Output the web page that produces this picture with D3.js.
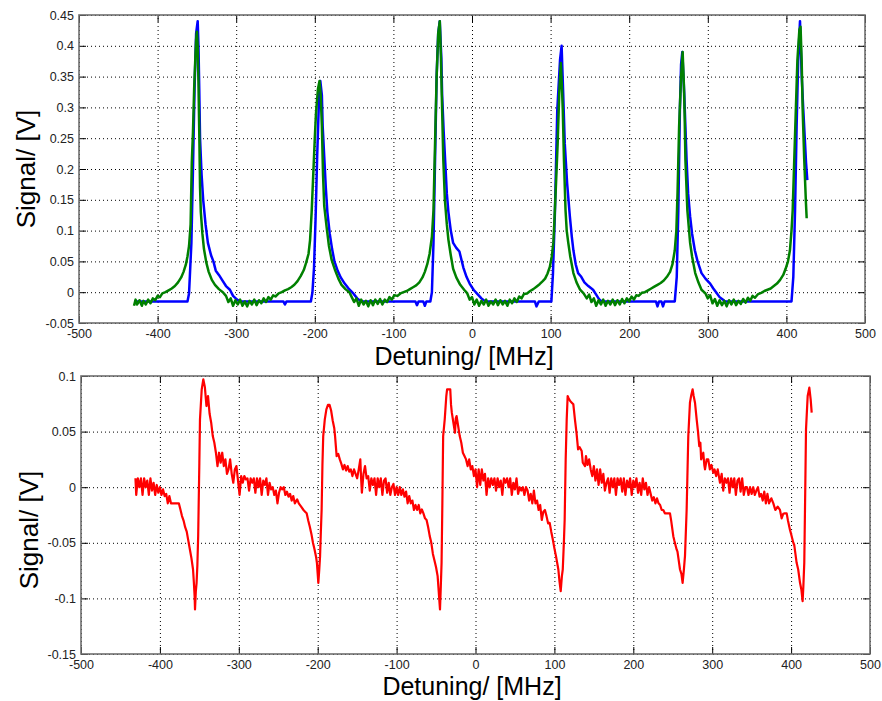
<!DOCTYPE html>
<html>
<head>
<meta charset="utf-8">
<script src="https://cdn.jsdelivr.net/npm/d3@7"></script>
<style>
body {margin:0; background:#fff;}
svg text {font-family:"Liberation Sans", Arial, sans-serif;}
</style>
</head>
<body>
<svg width="882" height="701"></svg>
<script>
//Dados
var xTicks = [-500, -400, -300, -200, -100, 0, 100, 200, 300, 400, 500];
var xTickLabels = ["-500", "-400", "-300", "-200", "-100", "0", "100", "200", "300", "400", "500"];

var yTicksTop = [-0.05, 0, 0.05, 0.1, 0.15, 0.2, 0.25, 0.3, 0.35, 0.4, 0.45];
var yTickLabelsTop = ["-0.05", "0", "0.05", "0.1", "0.15", "0.2", "0.25", "0.3", "0.35", "0.4", "0.45"];

var yTicksBottom = [-0.15, -0.1, -0.05, 0, 0.05, 0.1];
var yTickLabelsBottom = ["-0.15", "-0.1", "-0.05", "0", "0.05", "0.1"];

// sinal azul (detuning MHz, volts)
var blueData = [
[-430,-0.015],[-362,-0.015],[-360,-0.002],[-359,0.025],[-357,0.08],[-355,0.2],[-353,0.33],[-351,0.42],[-349,0.44],[-348,0.40],[-347,0.33],[-346,0.25],[-344,0.19],[-342,0.15],[-339,0.11],[-336,0.08],[-332,0.06],[-329,0.05],[-326,0.035],[-322,0.028],[-318,0.02],[-313,0.01],[-308,0.004],[-304,-0.006],[-299,-0.012],[-295,-0.015],
[-240,-0.015],[-238,-0.02],[-236,-0.015],[-205,-0.015],[-203,0.0],[-201,0.04],[-199,0.12],[-197,0.22],[-195,0.30],[-194,0.335],[-193,0.343],[-191,0.32],[-190,0.27],[-188,0.22],[-186,0.17],[-184,0.13],[-181,0.095],[-178,0.07],[-175,0.05],[-171,0.035],[-167,0.024],[-162,0.014],[-157,0.006],[-151,-0.002],[-146,-0.01],[-141,-0.015],
[-72,-0.015],[-70,-0.021],[-68,-0.015],[-62,-0.015],[-60,-0.022],[-58,-0.015],[-53,-0.015],[-51,0.0],[-49,0.08],[-47,0.215],[-45,0.35],[-43,0.42],[-41,0.44],[-39,0.38],[-38,0.32],[-36,0.26],[-34,0.21],[-32,0.16],[-30,0.13],[-27,0.10],[-24,0.08],[-20,0.072],[-16,0.066],[-11,0.04],[-7,0.025],[-3,0.014],[2,0.004],[7,-0.003],[12,-0.01],[17,-0.015],
[80,-0.015],[82,-0.023],[85,-0.015],[101,-0.015],[103,0.03],[105.5,0.13],[108.5,0.296],[112,0.377],[114,0.40],[116,0.323],[118,0.242],[121,0.177],[124.5,0.123],[127,0.09],[129,0.068],[132,0.045],[135,0.031],[139,0.025],[143,0.016],[148,0.01],[154,0.004],[158,-0.004],[162,-0.012],[165,-0.015],
[234,-0.015],[236,-0.023],[238,-0.015],[241,-0.015],[243,-0.023],[245,-0.015],[258,-0.015],[260.5,0.025],[262.5,0.133],[264.5,0.296],[266,0.37],[267.6,0.39],[269,0.35],[270,0.323],[273,0.215],[275,0.16],[277.5,0.123],[280,0.095],[283.5,0.068],[287,0.05],[292,0.031],[297,0.022],[303,0.014],[307,0.006],[311,-0.001],[315,-0.008],[319,-0.012],[322,-0.015],
[406.5,-0.015],[408.8,0.025],[411,0.133],[413,0.269],[415,0.377],[417.3,0.44],[419.5,0.35],[421.5,0.296],[423.7,0.242],[425,0.21],[426.6,0.182]
];

// sinal verde
var greenData = [
[-430,-0.022],[-428,-0.012],[-426,-0.02],[-423,-0.013],[-420,-0.022],[-418,-0.014],[-415,-0.02],[-412,-0.012],[-409,-0.018],[-406,-0.01],[-403,-0.013],[-400,-0.006],[-397,-0.008],[-394,-0.002],[-390,0.0],[-386,0.003],[-382,0.006],[-378,0.01],[-374,0.016],[-370,0.024],[-367,0.033],[-364,0.045],[-362,0.058],[-360,0.075],[-358,0.11],[-356.5,0.21],[-355,0.26],[-353.5,0.33],[-352,0.38],[-351,0.41],[-350,0.423],[-349,0.40],[-348,0.34],[-347,0.26],[-346,0.17],[-345,0.13],[-343,0.095],[-341,0.07],[-338,0.048],[-335,0.033],[-331,0.02],[-327,0.012],[-322,0.005],[-317,0.0],[-313,-0.006],
[-310,-0.016],[-307,-0.01],[-304,-0.022],[-301,-0.013],[-298,-0.02],[-295,-0.012],[-292,-0.022],[-289,-0.015],[-286,-0.023],[-283,-0.014],[-280,-0.02],[-277,-0.012],[-274,-0.021],[-271,-0.013],[-268,-0.018],[-265,-0.01],[-262,-0.016],[-259,-0.008],[-256,-0.012],[-253,-0.005],[-250,-0.007],[-246,-0.002],[-242,0.0],[-238,0.003],[-234,0.005],[-230,0.008],[-226,0.012],[-222,0.018],[-218,0.026],[-214,0.036],[-211,0.048],[-208,0.062],[-206,0.085],[-204,0.13],[-202,0.19],[-200,0.25],[-198.5,0.29],[-196,0.33],[-194,0.343],[-192.5,0.32],[-191,0.27],[-189.5,0.19],[-188,0.14],[-185,0.106],[-182,0.075],[-178.5,0.052],[-174,0.035],[-170,0.022],[-166,0.012],[-161,0.005],[-156,0.0],
[-153,-0.008],[-150,-0.016],[-147,-0.01],[-144,-0.022],[-141,-0.012],[-138,-0.02],[-135,-0.014],[-132,-0.023],[-129,-0.013],[-126,-0.021],[-123,-0.012],[-120,-0.019],[-117,-0.011],[-114,-0.02],[-111,-0.012],[-108,-0.016],[-105,-0.008],[-102,-0.012],[-99,-0.005],[-95,-0.006],[-91,-0.002],[-87,0.0],[-83,0.002],[-79,0.005],[-75,0.008],[-71,0.011],[-67,0.016],[-63,0.024],[-60,0.033],[-57,0.045],[-54,0.062],[-51,0.09],[-49,0.133],[-47,0.242],[-45,0.35],[-43,0.42],[-41,0.44],[-39.5,0.38],[-38.5,0.323],[-36.5,0.215],[-34.5,0.15],[-32,0.11],[-30,0.085],[-27,0.06],[-24,0.038],[-20,0.024],[-15,0.012],[-10,0.004],[-6,-0.002],
[-3,-0.012],[0,-0.008],[3,-0.02],[6,-0.012],[9,-0.022],[12,-0.014],[15,-0.02],[18,-0.012],[21,-0.022],[24,-0.015],[27,-0.02],[30,-0.012],[33,-0.021],[36,-0.013],[39,-0.02],[42,-0.014],[45,-0.022],[48,-0.012],[51,-0.018],[54,-0.01],[57,-0.016],[60,-0.007],[63,-0.01],[66,-0.003],[70,-0.002],[74,0.002],[78,0.005],[82,0.009],[86,0.013],[90,0.018],[93,0.022],[96,0.03],[99,0.041],[101.5,0.058],[103.5,0.08],[105,0.12],[107,0.18],[109,0.242],[111,0.323],[113,0.372],[114.5,0.33],[115.5,0.296],[117,0.215],[119,0.133],[120.5,0.1],[122.5,0.08],[125,0.058],[129,0.031],[133,0.016],[137.5,0.004],[142,-0.002],
[146,-0.01],[149,-0.004],[152,-0.016],[155,-0.01],[158,-0.022],[161,-0.013],[164,-0.02],[167,-0.012],[170,-0.022],[173,-0.014],[176,-0.02],[179,-0.012],[182,-0.021],[185,-0.013],[188,-0.02],[191,-0.011],[194,-0.018],[197,-0.01],[200,-0.015],[203,-0.007],[206,-0.012],[209,-0.005],[212,-0.006],[216,-0.001],[220,0.0],[224,0.003],[228,0.006],[232,0.009],[236,0.012],[240,0.015],[244,0.019],[248,0.025],[252,0.033],[255,0.045],[258,0.068],[260,0.1],[261.5,0.161],[263.5,0.269],[266,0.35],[268,0.39],[269.5,0.34],[270.5,0.29],[271.5,0.215],[274,0.133],[277.5,0.08],[280,0.058],[284,0.031],[288,0.016],[292,0.004],[297,-0.002],
[300,-0.01],[303,-0.005],[306,-0.018],[309,-0.011],[312,-0.022],[315,-0.013],[318,-0.021],[321,-0.014],[324,-0.023],[327,-0.013],[330,-0.02],[333,-0.012],[336,-0.021],[339,-0.014],[342,-0.019],[345,-0.011],[348,-0.017],[351,-0.009],[354,-0.014],[357,-0.006],[360,-0.009],[364,-0.003],[368,-0.001],[372,0.002],[376,0.004],[380,0.006],[384,0.01],[388,0.014],[392,0.02],[396,0.028],[399,0.038],[402,0.05],[404.5,0.068],[406.5,0.1],[408,0.133],[410,0.215],[412,0.296],[414,0.377],[416.5,0.426],[418,0.431],[419.4,0.377],[420.7,0.296],[422.7,0.215],[424.9,0.144],[425.8,0.12]
];

// sinal vermelho (grafico de baixo)
var redData = [
[-431,0.008],[-430,-0.007],[-428,0.008],[-426,0.0],[-424,0.008],[-422,-0.007],[-420,0.008],[-418,0.0],[-416,0.006],[-414,-0.007],[-412,0.008],[-410,-0.003],[-408,0.004],[-406,-0.007],[-404,0.002],[-402,-0.005],[-400,0.0],[-398,-0.007],[-396,-0.002],[-394,-0.008],[-392,-0.006],[-390,-0.0145],[-388,-0.008],[-386,-0.0145],[-383,-0.0145],[-380,-0.0145],[-376,-0.0145],[-374,-0.02],[-372,-0.026],[-370,-0.03],[-368,-0.036],[-366,-0.04],[-364,-0.048],[-362,-0.056],[-360,-0.064],[-358,-0.074],[-357,-0.085],[-356,-0.098],[-355.5,-0.110],[-354.5,-0.094],[-353.5,-0.086],[-352.5,-0.07],[-351.5,-0.044],[-350.5,0.0],[-350,0.022],[-349.2,0.061],[-347,0.088],[-345,0.097],[-343,0.09],[-341,0.073],[-339,0.082],[-337,0.066],[-335,0.058],[-333,0.046],[-331,0.04],[-329,0.031],[-327,0.019],[-325,0.031],[-323,0.022],[-321,0.031],[-319,0.019],[-317,0.025],[-315,0.012],[-313,0.016],[-311,0.025],[-309,0.012],[-307,0.004],[-305,0.016],[-303,0.019],[-301,0.006],[-299,-0.007],[-297,0.01],[-295,0.004],[-293,0.01],[-291,0.007],
[-289,0.008],[-287,-0.003],[-285,0.008],[-283,0.004],[-281,0.008],[-279,-0.005],[-277,0.008],[-275,0.0],[-273,0.008],[-271,-0.007],[-269,0.006],[-267,0.002],[-265,0.008],[-263,-0.007],[-261,0.004],[-259,-0.002],[-257,0.0],[-255,-0.007],[-253,-0.003],[-251,-0.0145],[-249,-0.005],[-247,0.0],[-245,-0.002],[-243,0.0],[-241,-0.007],[-239,-0.004],[-237,-0.0085],[-235,-0.006],[-233,-0.012],[-231,-0.008],[-229,-0.0145],[-226,-0.011],[-224,-0.0145],[-221,-0.0175],[-218,-0.0205],[-216,-0.022],[-214,-0.0235],[-212,-0.03],[-210,-0.0355],[-208,-0.042],[-206,-0.05],[-204,-0.056],[-202,-0.063],[-201,-0.068],[-200,-0.078],[-199.2,-0.086],[-198,-0.074],[-197,-0.062],[-196,-0.04],[-195,-0.02],[-194,0.02],[-193,0.046],[-191,0.061],[-189,0.07],[-187,0.074],[-185,0.074],[-183,0.069],[-181,0.06],[-179,0.053],[-178,0.046],[-176,0.028],[-174,0.03],[-172,0.025],[-170,0.021],[-168,0.016],[-166,0.02],[-164,0.015],[-162,0.019],[-160,0.014],[-158,0.016],[-156,0.01],[-154,0.016],[-152,0.012],[-150,0.008],[-148,0.016],[-146,0.025],[-145,0.008],[-144,-0.005],[-142,0.012],[-140,0.019],[-138,0.008],[-136,0.01],[-134,-0.003],[-132,0.008],[-130,0.002],[-128,0.008],[-126,-0.007],[-124,0.008],[-122,0.0],[-120,0.008],[-118,-0.007],[-116,0.006],[-114,0.008],[-112,-0.005],[-110,0.004],[-108,-0.007],[-106,0.0],[-104,0.003],[-102,-0.007],[-100,0.0],[-98,-0.007],[-96,0.0],[-94,-0.007],[-92,-0.002],[-90,-0.0085],[-88,-0.004],[-86,-0.0145],[-84,-0.008],[-82,-0.0145],[-80,-0.012],[-78,-0.0205],[-76,-0.016],[-74,-0.0205],[-72,-0.016],[-70,-0.0235],[-68,-0.02],[-66,-0.0235],[-64,-0.028],[-62,-0.0295],[-60,-0.036],[-58,-0.044],[-56,-0.05],[-54,-0.06],[-52,-0.066],[-50,-0.072],[-48,-0.08],[-47,-0.09],[-46,-0.1],[-45,-0.110],[-44,-0.09],[-43,-0.068],[-42,-0.0145],[-41,0.046],[-39,0.061],[-37,0.082],[-36,0.088],[-34,0.088],[-32,0.088],[-31,0.074],[-30,0.067],[-28,0.058],[-26,0.049],[-25,0.062],[-24,0.064],[-22,0.055],[-20,0.046],[-18,0.04],[-16,0.031],[-14,0.028],[-12,0.025],[-10,0.019],[-8,0.025],[-6,0.016],[-4,0.019],[-2,0.01],
[0,0.016],[2,0.0],[4,0.016],[6,0.002],[8,0.016],[10,0.006],[12,0.012],[14,-0.007],[16,0.008],[18,0.0],[20,0.008],[22,0.002],[24,0.008],[26,-0.003],[28,0.008],[30,0.0],[32,0.006],[34,-0.007],[36,0.008],[38,0.004],[40,0.008],[42,0.0],[44,0.008],[46,-0.007],[48,0.004],[50,-0.002],[52,0.008],[54,-0.006],[56,0.0],[58,-0.003],[60,0.0],[62,-0.007],[64,0.0],[66,-0.003],[68,-0.012],[70,-0.006],[72,-0.0145],[74,-0.003],[76,-0.0145],[78,-0.012],[80,-0.0205],[82,-0.016],[84,-0.0295],[86,-0.022],[88,-0.0205],[90,-0.026],[92,-0.0325],[94,-0.032],[96,-0.04],[98,-0.047],[100,-0.055],[102,-0.062],[104,-0.07],[105,-0.074],[106.5,-0.085],[108,-0.0935],[109.5,-0.08],[110.6,-0.074],[112,-0.05],[113,-0.0295],[114.3,0.025],[115.6,0.061],[116.8,0.082],[118,0.08],[120,0.0775],[122,0.076],[124,0.0745],[126,0.061],[128,0.049],[130,0.034],[132,0.036],[134.6,0.0325],[136,0.022],[138.8,0.019],[140,0.028],[142,0.02],[144,0.025],[146,0.016],[148,0.01],[150,0.019],[152,0.006],[154,0.016],[156,0.002],[158,0.016],[160,0.004],[162,0.012],[164,-0.003],[166,0.004],[168,0.008],[170,-0.005],[172,0.008],[174,0.0],[176,0.008],[178,-0.007],[180,0.008],[182,0.002],[184,0.008],[186,-0.004],[188,0.008],[190,-0.007],[192,0.006],[194,0.0],[196,0.008],[198,-0.007],[200,0.006],[202,0.0],[204,0.008],[206,-0.005],[208,0.004],[210,-0.007],[212,0.008],[214,-0.002],[216,0.004],[218,-0.007],[220,0.0],[222,-0.006],[224,-0.012],[226,-0.009],[228,-0.0145],[230,-0.01],[232,-0.0145],[234,-0.016],[236,-0.0205],[238,-0.0205],[240,-0.0235],[242,-0.0235],[244,-0.0235],[246.5,-0.0235],[248,-0.03],[250.7,-0.044],[252,-0.048],[254.9,-0.056],[256,-0.058],[258,-0.068],[259.2,-0.074],[261,-0.078],[262.5,-0.086],[264,-0.075],[265.5,-0.062],[267.6,-0.0205],[269.7,0.046],[271.8,0.076],[273.5,0.083],[275.2,0.088],[276.5,0.082],[278.2,0.076],[280.3,0.061],[282,0.05],[283.6,0.037],[285,0.04],[286,0.025],[288.7,0.031],[290,0.02],[290.9,0.016],[293,0.025],[295,0.025],[297,0.016],[299,0.02],[301.4,0.013],[303,0.016],[305,0.01],[307,0.016],[309.9,0.004],[312,0.012],[314,-0.003],[316,0.008],[318,0.004],[320,0.008],[322,-0.005],[324,0.008],[326,0.0],[328,0.008],[330,-0.007],[332,0.006],[334,0.008],[336,-0.004],[338,0.008],[340,-0.007],[342,0.0],[344,0.0],[346,-0.007],[348,0.0],[350,-0.006],[352,0.0],[354,-0.007],[356,-0.003],[358,0.0],[360,-0.0085],[362,-0.006],[364,-0.012],[366,-0.004],[368,-0.0145],[370,-0.006],[372,-0.0145],[375,-0.01],[377.5,-0.0145],[380,-0.0205],[383,-0.0175],[385.9,-0.0205],[388,-0.028],[390,-0.024],[392,-0.0235],[394.4,-0.0235],[396,-0.03],[398.6,-0.0385],[400,-0.042],[402.8,-0.05],[404,-0.052],[405.5,-0.06],[407,-0.068],[409,-0.074],[411.3,-0.086],[413,-0.092],[414.6,-0.1025],[415.5,-0.09],[416.7,-0.068],[418,0.001],[418.9,0.052],[421,0.082],[423.1,0.0895],[424.8,0.079],[426.1,0.067]
];

//Layout
var svg = d3.select('svg');
var panelTop = {left: 79, right: 865, top: 15, bottom: 323};
var panelBottom = {left: 81, right: 870, top: 376, bottom: 654};

function drawPanel(box, yDomain, yTicks, yTickLabels, series, yLabelPos, xLabelPos) {
    var width = box.right - box.left;
    var height = box.bottom - box.top;

    var g = svg.append('g')
        .attr('transform', 'translate(' + box.left + ',' + box.top + ')');

    //Escalas
    var xScale = d3.scaleLinear().domain([-500, 500]).range([0, width]);
    var yScale = d3.scaleLinear().domain(yDomain).range([height, 0]);

    // grade pontilhada
    g.append('g')
        .attr('class', 'grid')
        .attr('transform', 'translate(0,' + height + ')')
        .call(d3.axisBottom(xScale).tickValues(xTicks).tickSize(-height).tickFormat(''));
    g.append('g')
        .attr('class', 'grid')
        .call(d3.axisLeft(yScale).tickValues(yTicks).tickSize(-width).tickFormat(''));
    g.selectAll('.grid .domain').remove();
    g.selectAll('.grid line')
        .attr('stroke', '#000')
        .attr('stroke-width', 1)
        .attr('stroke-dasharray', '1,3');

    // linhas
    var line = d3.line()
        .x(d => xScale(d[0]))
        .y(d => yScale(d[1]));
    series.forEach(function(s) {
        g.append('path')
            .datum(s.data)
            .attr('fill', 'none')
            .attr('stroke', s.color)
            .attr('stroke-width', s.width)
            .attr('stroke-linejoin', 'round')
            .attr('d', line);
    });

    // eixos (ticks para dentro, como no matlab)
    g.append('g')
        .attr('class', 'xAxis')
        .attr('transform', 'translate(0,' + height + ')')
        .call(d3.axisBottom(xScale).tickValues(xTicks).tickSizeInner(-7).tickSizeOuter(0)
            .tickPadding(6).tickFormat((d, i) => xTickLabels[i]));
    g.append('g')
        .call(d3.axisTop(xScale).tickValues(xTicks).tickSizeInner(-7).tickSizeOuter(0).tickFormat(''));
    g.append('g')
        .attr('class', 'yAxis')
        .call(d3.axisLeft(yScale).tickValues(yTicks).tickSizeInner(-7).tickSizeOuter(0)
            .tickPadding(5).tickFormat((d, i) => yTickLabels[i]));
    g.append('g')
        .attr('transform', 'translate(' + width + ',0)')
        .call(d3.axisRight(yScale).tickValues(yTicks).tickSizeInner(-7).tickSizeOuter(0).tickFormat(''));

    g.selectAll('.domain').remove();
    g.selectAll('.xAxis line, .yAxis line').attr('stroke', '#000');
    g.selectAll('.tick text')
        .attr('font-size', '12.5px')
        .attr('fill', '#222')
        .attr('font-family', '"Liberation Sans", Arial, sans-serif');

    // moldura
    g.append('rect')
        .attr('x', 0).attr('y', 0)
        .attr('width', width).attr('height', height)
        .attr('fill', 'none')
        .attr('stroke', '#6e6e6e')
        .attr('stroke-width', 1.6);

    // titulos dos eixos
    svg.append('text')
        .attr('transform', 'translate(' + yLabelPos[0] + ',' + yLabelPos[1] + ') rotate(-90)')
        .attr('text-anchor', 'middle')
        .attr('font-size', '26px')
        .attr('fill', '#000')
        .text('Signal/ [V]');
    svg.append('text')
        .attr('x', xLabelPos[0])
        .attr('y', xLabelPos[1])
        .attr('text-anchor', 'middle')
        .attr('font-size', '25px')
        .attr('fill', '#000')
        .text('Detuning/ [MHz]');
}

drawPanel(panelTop, [-0.05, 0.45], yTicksTop, yTickLabelsTop,
    [{data: blueData, color: '#0000ff', width: 2.5},
     {data: greenData, color: '#008000', width: 2.5}],
    [35, 169], [464, 365]);

drawPanel(panelBottom, [-0.15, 0.1], yTicksBottom, yTickLabelsBottom,
    [{data: redData, color: '#ff0000', width: 2.2}],
    [38, 530], [472, 695]);
</script>
</body>
</html>
